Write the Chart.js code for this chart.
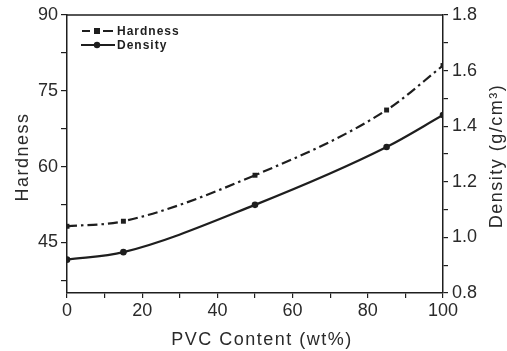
<!DOCTYPE html>
<html>
<head>
<meta charset="utf-8">
<script src="https://cdn.jsdelivr.net/npm/chart.js@4/dist/chart.umd.min.js"></script>
<style>
html,body{margin:0;padding:0;background:#fff;}
canvas{display:block;}
</style>
</head>
<body>
<canvas id="c" width="507" height="351"></canvas>
<script>
// ---- data ----
const pvcContent = [0, 15, 50, 85, 100];
const hardness   = [48.2, 49.2, 58.3, 71.2, 80.0];
const density    = [0.92, 0.947, 1.117, 1.325, 1.44];

// ---- axis ticks ----
const pvcMajor       = [0, 20, 40, 60, 80, 100];
const pvcMinor       = [10, 30, 50, 70, 90];
const hardnessMajor  = [45, 60, 75, 90];
const hardnessMinor  = [37.5, 52.5, 67.5, 82.5];
const densityMajor   = [0.8, 1.0, 1.2, 1.4, 1.6, 1.8];
const densityMinor   = [0.9, 1.1, 1.3, 1.5, 1.7];

const seriesNames = ['Hardness', 'Density'];
const axisTitles = { x: 'PVC Content (wt%)', y: 'Hardness', y1: 'Density (g/cm\u00B3)' };

const INK = '#1e1e1e';
const TEXT = '#2a2a2a';
const TICK_FONT = { family: '"Liberation Sans", Arial, sans-serif', size: 18 };

function tickList(major, minor) {
  return major.concat(minor).sort((a, b) => a - b).map(v => ({ value: v }));
}
function isMajor(major, v) {
  return major.some(m => Math.abs(m - v) < 1e-6);
}

const pts = (ys) => pvcContent.map((x, i) => ({ x: x, y: ys[i] }));

const frame = {
  id: 'frame',
  afterDraw(chart) {
    const { ctx, chartArea: a } = chart;
    ctx.save();
    // top border of the box
    ctx.strokeStyle = INK;
    ctx.lineWidth = 1.5;
    ctx.beginPath();
    ctx.moveTo(a.left, a.top);
    ctx.lineTo(a.right, a.top);
    ctx.stroke();

    // axis titles
    ctx.fillStyle = TEXT;
    ctx.font = '18px "Liberation Sans", Arial, sans-serif';
    try { ctx.letterSpacing = '1.5px'; } catch (e) {}
    ctx.textAlign = 'center';
    ctx.textBaseline = 'middle';
    ctx.fillText(axisTitles.x, (a.left + a.right) / 2 + 7, a.bottom + 47);

    ctx.save();
    ctx.translate(a.left - 44, (a.top + a.bottom) / 2 + 3);
    ctx.rotate(-Math.PI / 2);
    ctx.fillText(axisTitles.y, 0, 0);
    ctx.restore();

    ctx.save();
    ctx.translate(a.right + 54, (a.top + a.bottom) / 2 + 2);
    ctx.rotate(-Math.PI / 2);
    ctx.fillText(axisTitles.y1, 0, 0);
    ctx.restore();

    // legend
    ctx.fillStyle = INK;
    const lx = a.left + 15, ly = a.top + 16, gap = 14;
    ctx.lineWidth = 2;
    ctx.strokeStyle = INK;
    // Hardness row: dash - square - dash
    ctx.beginPath();
    ctx.moveTo(lx, ly); ctx.lineTo(lx + 8, ly);
    ctx.moveTo(lx + 21, ly); ctx.lineTo(lx + 31, ly);
    ctx.stroke();
    ctx.fillRect(lx + 12, ly - 3, 6, 6);
    // Density row: solid line with circle
    ctx.beginPath();
    ctx.moveTo(lx - 1, ly + gap); ctx.lineTo(lx + 33, ly + gap);
    ctx.stroke();
    ctx.beginPath();
    ctx.arc(lx + 15, ly + gap, 3.2, 0, Math.PI * 2);
    ctx.fill();

    ctx.font = 'bold 12px "Liberation Sans", Arial, sans-serif';
    try { ctx.letterSpacing = '1px'; } catch (e) {}
    ctx.textAlign = 'left';
    ctx.fillText(seriesNames[0], lx + 35, ly + 1);
    ctx.fillText(seriesNames[1], lx + 35, ly + gap + 1);
    ctx.restore();
  }
};

new Chart(document.getElementById('c'), {
  type: 'scatter',
  data: {
    datasets: [
      {
        label: seriesNames[0],
        data: pts(hardness),
        yAxisID: 'y',
        showLine: true,
        cubicInterpolationMode: 'monotone',
        borderColor: INK,
        backgroundColor: INK,
        borderWidth: 2.2,
        borderDash: [10, 4, 2.5, 4],
        pointStyle: 'rect',
        pointRadius: 3.5,
        pointBorderWidth: 0
      },
      {
        label: seriesNames[1],
        data: pts(density),
        yAxisID: 'y1',
        showLine: true,
        cubicInterpolationMode: 'monotone',
        borderColor: INK,
        backgroundColor: INK,
        borderWidth: 2.2,
        pointStyle: 'circle',
        pointRadius: 3.3,
        pointBorderWidth: 0
      }
    ]
  },
  options: {
    responsive: false,
    animation: false,
    devicePixelRatio: 1,
    layout: { padding: { top: 15, left: 0, right: 0, bottom: 0 } },
    plugins: { legend: { display: false }, tooltip: { enabled: false } },
    scales: {
      x: {
        type: 'linear',
        min: 0, max: 100,
        afterBuildTicks: s => { s.ticks = tickList(pvcMajor, pvcMinor); },
        afterFit: s => { s.height = 58; },
        ticks: {
          color: TEXT, font: TICK_FONT, padding: 2, maxRotation: 0, autoSkip: false,
          callback: v => isMajor(pvcMajor, v) ? String(v) : ''
        },
        grid: { drawOnChartArea: false, drawTicks: true, tickLength: 5, color: INK, lineWidth: 1.2 },
        border: { color: INK, width: 1.5 }
      },
      y: {
        type: 'linear',
        position: 'left',
        min: 35, max: 90,
        afterBuildTicks: s => { s.ticks = tickList(hardnessMajor, hardnessMinor); },
        afterFit: s => { s.width = 67; },
        ticks: {
          color: TEXT, font: TICK_FONT, padding: 3, autoSkip: false,
          callback: v => isMajor(hardnessMajor, v) ? String(v) : ''
        },
        grid: { drawOnChartArea: false, drawTicks: true, tickLength: 6, color: INK, lineWidth: 1.2 },
        border: { color: INK, width: 1.5 }
      },
      y1: {
        type: 'linear',
        position: 'right',
        min: 0.8, max: 1.8,
        afterBuildTicks: s => { s.ticks = tickList(densityMajor, densityMinor); },
        afterFit: s => { s.width = 64; },
        ticks: {
          color: TEXT, font: TICK_FONT, padding: 4, autoSkip: false,
          callback: v => isMajor(densityMajor, v) ? Number(v).toFixed(1) : ''
        },
        grid: { drawOnChartArea: false, drawTicks: true, tickLength: 5, color: INK, lineWidth: 1.2 },
        border: { color: INK, width: 1.5 }
      }
    }
  },
  plugins: [frame]
});
</script>
</body>
</html>
